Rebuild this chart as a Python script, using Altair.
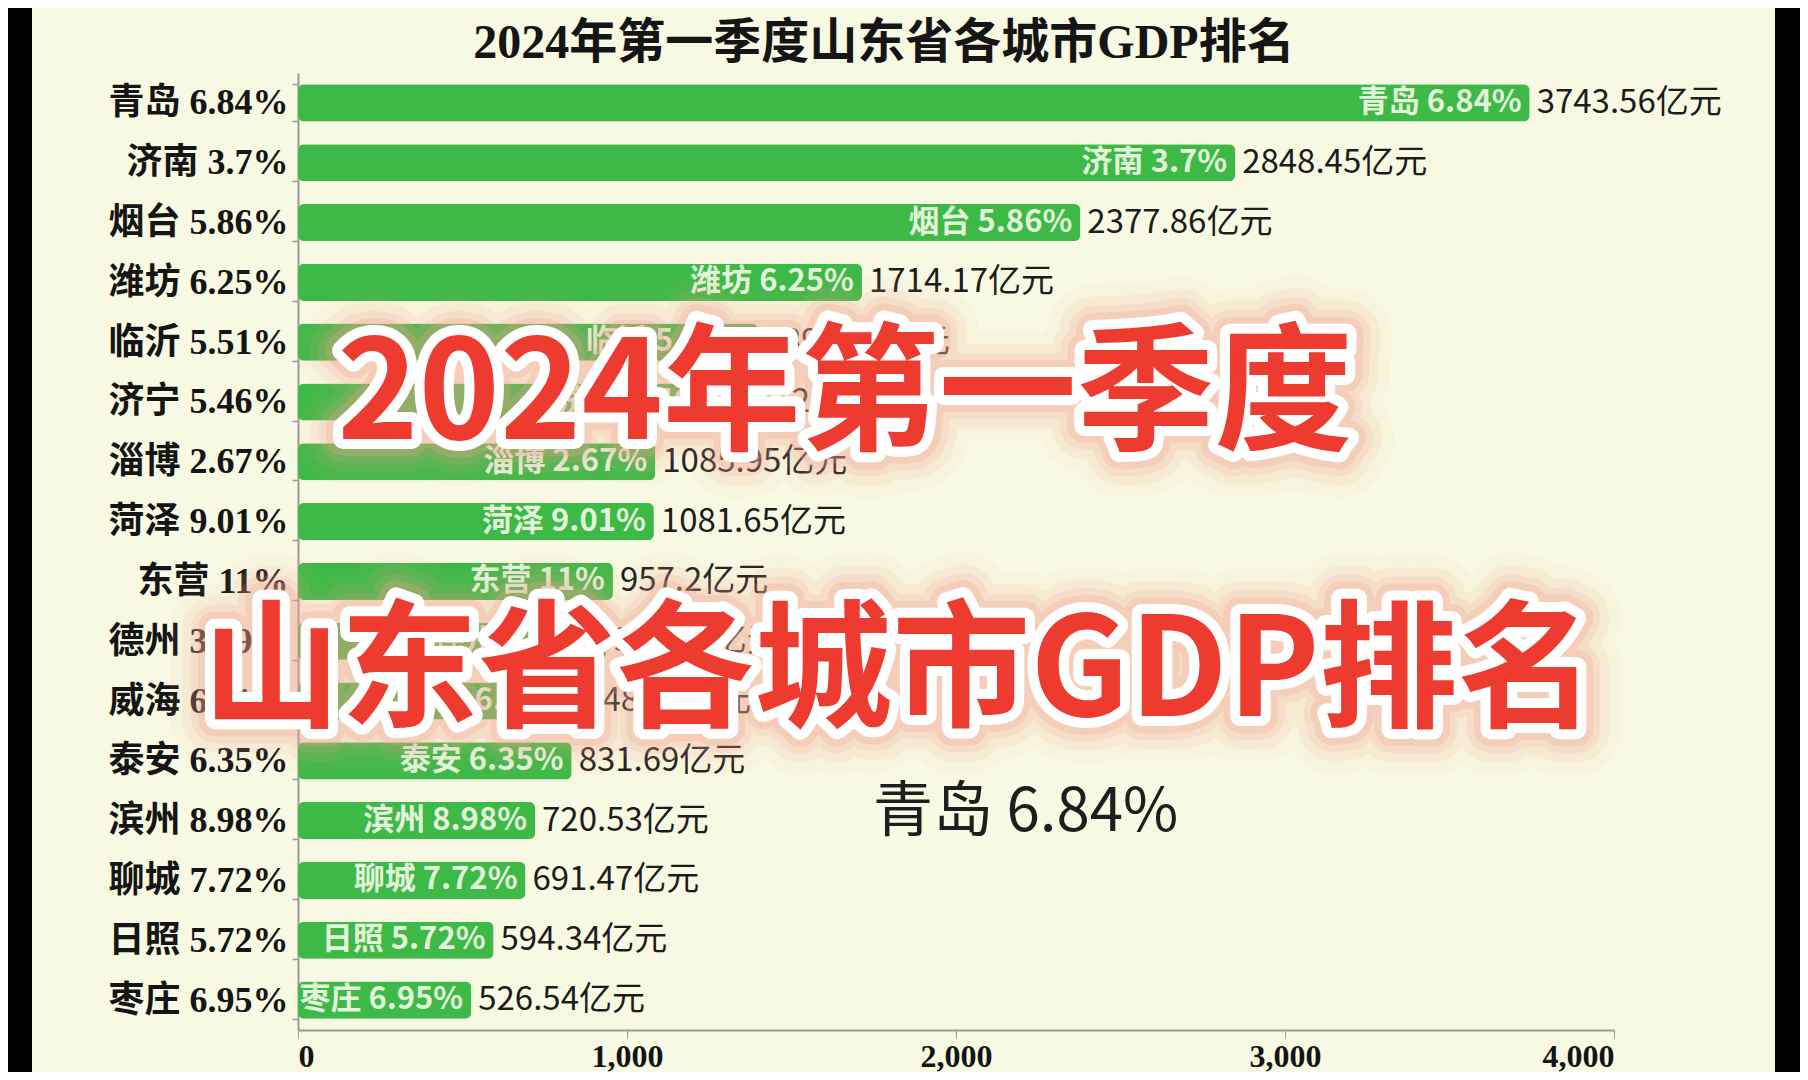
import altair as alt
import pandas as pd

cities = ["青岛", "济南", "烟台", "潍坊", "临沂", "济宁", "淄博", "菏泽",
          "东营", "德州", "威海", "泰安", "滨州", "聊城", "日照", "枣庄"]
growth = ["6.84%", "3.7%", "5.86%", "6.25%", "5.51%", "5.46%", "2.67%", "9.01%",
          "11%", "3.89%", "6.31%", "6.35%", "8.98%", "7.72%", "5.72%", "6.95%"]
gdp = [3743.56, 2848.45, 2377.86, 1714.17, 1397.36, 1312.24, 1085.95, 1081.65,
       957.2, 935.83, 848.59, 831.69, 720.53, 691.47, 594.34, 526.54]
x_ticks = [0, 1000, 2000, 3000, 4000]

title_text = "2024年第一季度山东省各城市GDP排名"
overlay_1 = "2024年第一季度"
overlay_2 = "山东省各城市GDP排名"
current_text = "青岛 6.84%"

labels = [f"{c} {g}" for c, g in zip(cities, growth)]
df = pd.DataFrame({
    "label": labels,
    "gdp": gdp,
    "inner": labels,
    "vtext": [f"{v}亿元" for v in gdp],
})

BG = "#F8F9E2"
GREEN = "#3CB946"
SERIF = "Liberation Serif, DejaVu Serif, Noto Sans CJK SC"
SANS = "Noto Sans CJK SC, Noto Sans, sans-serif"

W, H = 1316, 957
PAD = {"left": 290, "top": 65, "right": 1792 - 290 - W, "bottom": 1064 - 65 - H}

y_enc = alt.Y(
    "label:N", sort=labels, title=None,
    scale=alt.Scale(paddingInner=0.38, paddingOuter=0.19),
    axis=alt.Axis(labelFont=SERIF, labelFontSize=36, labelFontWeight="bold",
                  labelColor="#151515", labelPadding=4, tickSize=6, labelLimit=400,
                  tickBand="extent", tickColor="#9a9a9a", domainColor="#9a9a9a",
                  domainWidth=2, tickWidth=1.5),
)
x_enc = alt.X(
    "gdp:Q", title=None,
    scale=alt.Scale(domain=[0, 4000], nice=False),
    axis=alt.Axis(values=x_ticks, format=",d", labelFont=SERIF, labelFontSize=32,
                  labelFontWeight="bold", labelColor="#151515", tickSize=8,
                  tickColor="#9a9a9a", domainColor="#9a9a9a", domainWidth=2,
                  labelPadding=3, grid=False),
)

base = alt.Chart(df)
bars = base.mark_bar(cornerRadius=6, color=GREEN).encode(x=x_enc, y=y_enc)
inner = base.mark_text(align="right", dx=-8, font=SANS, fontSize=31, fontWeight="bold",
                       color="#E3F4DA", clip=True).encode(
    x="gdp:Q", y=alt.Y("label:N", sort=labels), text="inner:N")
outer = base.mark_text(align="left", dx=7, font=SANS, fontSize=33,
                       color="#1c1c1c").encode(
    x="gdp:Q", y=alt.Y("label:N", sort=labels), text="vtext:N")

one = lambda t: pd.DataFrame({"t": [t]})

title = alt.Chart(one(title_text)).mark_text(
    align="center", baseline="middle", font=SERIF, fontSize=48, fontWeight="bold",
    color="#151515").encode(x=alt.value(586), y=alt.value(-29), text="t:N")

cur = alt.Chart(one(current_text)).mark_text(
    align="left", baseline="middle", font=SANS, fontSize=60, color="#1e1e1e"
).encode(x=alt.value(575), y=alt.value(740), text="t:N")

def big(text, x, y):
    d = one(text)
    layers = []
    for sw, op in [(90, 0.06), (66, 0.10), (48, 0.16), (34, 0.25)]:
        layers.append(alt.Chart(d).mark_text(
            align="center", baseline="middle", font=SANS, fontSize=138, fontWeight="bold",
            color="#F3A28E", stroke="#F3A28E", strokeWidth=sw, strokeJoin="round",
            opacity=op).encode(x=alt.value(x), y=alt.value(y), text="t:N"))
    layers.append(alt.Chart(d).mark_text(
        align="center", baseline="middle", font=SANS, fontSize=138, fontWeight="bold",
        color="#FFFFFF", stroke="#FFFFFF", strokeWidth=20, strokeJoin="round"
    ).encode(x=alt.value(x), y=alt.value(y), text="t:N"))
    layers.append(alt.Chart(d).mark_text(
        align="center", baseline="middle", font=SANS, fontSize=138, fontWeight="bold",
        color="#EE3B2F"
    ).encode(x=alt.value(x), y=alt.value(y), text="t:N"))
    return layers

side = one("edge")
left_black = alt.Chart(side).mark_rect(color="#000000").encode(
    x=alt.value(-290), x2=alt.value(-266), y=alt.value(-65), y2=alt.value(999))
right_black = alt.Chart(side).mark_rect(color="#000000").encode(
    x=alt.value(1477), x2=alt.value(1502), y=alt.value(-65), y2=alt.value(999))

layers = ([bars, inner, outer, title, cur] + big(overlay_1, 547, 325)
          + big(overlay_2, 601, 602) + [left_black, right_black])

chart = alt.layer(*layers).properties(
    width=W, height=H,
    autosize=alt.AutoSizeParams(type="none"),
    padding=PAD,
    background=BG,
).configure_view(stroke=None)

chart.save("out.html", embed_options={"renderer": "svg", "actions": False})
